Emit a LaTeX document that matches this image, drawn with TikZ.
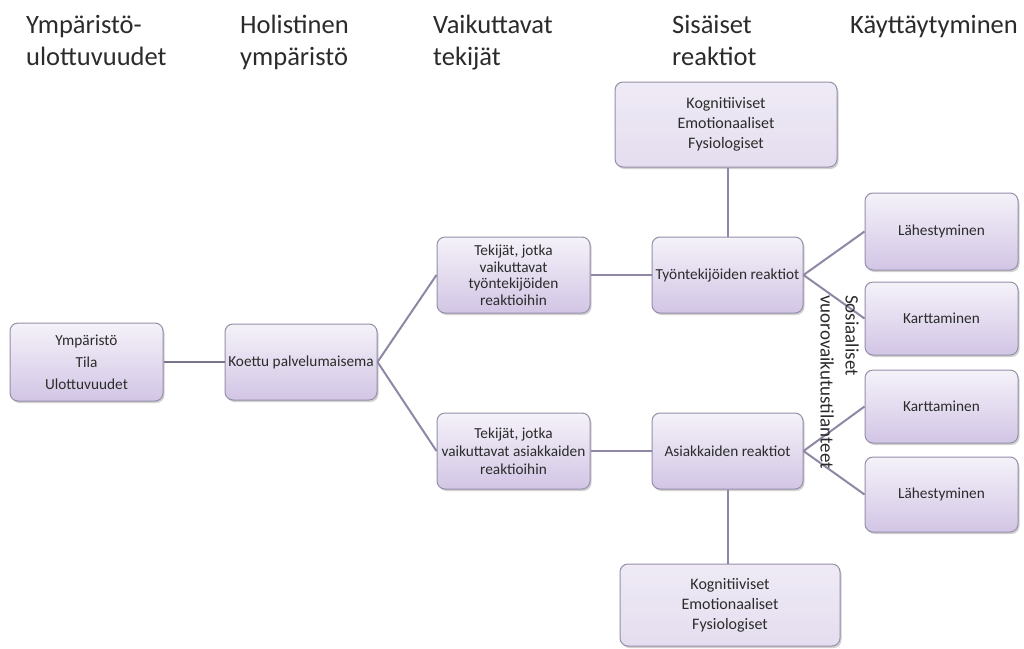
\documentclass[tikz,border=0pt]{standalone}
\usepackage{fontspec}
\setmainfont{Carlito}
\usetikzlibrary{shadows}
\definecolor{boxtop}{HTML}{F5F2F9}
\definecolor{boxbot}{HTML}{D2C5E5}
\definecolor{boxline}{HTML}{958FA8}
\definecolor{conn}{HTML}{8F87A5}
\definecolor{kogfill}{HTML}{E4DDEF}
\definecolor{txt}{HTML}{2B2B2B}
\begin{document}
\begin{tikzpicture}[x=1pt,y=-1pt,
  box/.style={draw=boxline, line width=1pt, rounded corners=8pt,
    top color=boxtop, bottom color=boxbot, align=center, inner sep=1pt,
    font=\fontsize{15.3}{18}\selectfont, text=txt,
    drop shadow={shadow xshift=1.5pt, shadow yshift=-2pt, fill=black!40, opacity=0.45}},
  kogbox/.style={box, top color=kogfill!60!white, bottom color=kogfill},
  conn/.style={draw=conn, line width=2pt},
  header/.style={anchor=north west, inner sep=0pt, align=left,
    font=\fontsize{26.5}{32}\selectfont, text=txt}]
\fill[white] (0,0) rectangle (1024,648);
\useasboundingbox (0,0) rectangle (1024,648);

% headers
\node[header] (h1) at (26,15) {Ympäristö-\\ulottuvuudet};
\node[header] (h2) at (240,15) {Holistinen\\ympäristö};
\node[header] (h3) at (433,15) {Vaikuttavat\\tekijät};
\node[header] (h4) at (672,15) {Sisäiset\\reaktiot};
\node[header] (h5) at (850,15) {Käyttäytyminen};

% boxes
\node[box, minimum width=153pt, minimum height=78pt, font=\fontsize{15.3}{22}\selectfont] (ymp) at (86.5,362) {Ympäristö\\Tila\\Ulottuvuudet};
\node[box, minimum width=152pt, minimum height=76pt] (koe) at (301,362) {Koettu palvelumaisema};
\node[box, minimum width=153pt, minimum height=76pt, font=\fontsize{15.3}{16.5}\selectfont] (tek1) at (513.5,275) {Tekijät, jotka\\vaikuttavat\\työntekijöiden\\reaktioihin};
\node[box, minimum width=151pt, minimum height=76pt] (tyo) at (727.5,275) {Työntekijöiden reaktiot};
\node[box, minimum width=153pt, minimum height=76pt, font=\fontsize{15.3}{18}\selectfont] (tek2) at (513.5,451) {Tekijät, jotka\\vaikuttavat asiakkaiden\\reaktioihin};
\node[box, minimum width=151pt, minimum height=76pt] (asi) at (727.5,451) {Asiakkaiden reaktiot};
\node[kogbox, minimum width=222pt, minimum height=85pt, font=\fontsize{16}{20}\selectfont] (kog1) at (726,124.5) {Kognitiiviset\\Emotionaaliset\\Fysiologiset};
\node[kogbox, minimum width=220pt, minimum height=82pt, font=\fontsize{16}{20}\selectfont] (kog2) at (730,605) {Kognitiiviset\\Emotionaaliset\\Fysiologiset};
\node[box, minimum width=153pt, minimum height=77pt] (lah1) at (941.5,231.5) {Lähestyminen};
\node[box, minimum width=153pt, minimum height=73pt] (kar1) at (941.5,318.5) {Karttaminen};
\node[box, minimum width=153pt, minimum height=73pt] (kar2) at (941.5,406.5) {Karttaminen};
\node[box, minimum width=153pt, minimum height=75pt] (lah2) at (941.5,494.5) {Lähestyminen};

% connectors
\draw[conn, line width=2.6pt, draw=conn!85!black] (ymp.east) -- (koe.west);
\draw[conn] (koe.east) -- (tek1.west);
\draw[conn] (koe.east) -- (tek2.west);
\draw[conn] (tek1.east) -- (tyo.west);
\draw[conn] (tek2.east) -- (asi.west);
\draw[conn] (tyo.north) -- (tyo.north |- kog1.south);
\draw[conn] (asi.south) -- (asi.south |- kog2.north);
\draw[conn] (tyo.east) -- (lah1.west);
\draw[conn] (tyo.east) -- (kar1.west);
\draw[conn] (asi.east) -- (kar2.west);
\draw[conn] (asi.east) -- (lah2.west);

% rotated label
\node[rotate=-90, anchor=north west, inner sep=0pt, align=left,
  font=\fontsize{19}{25}\selectfont, text=txt] (soc) at (859,295) {Sosiaaliset\\vuorovaikutustilanteet};
\end{tikzpicture}
\end{document}
